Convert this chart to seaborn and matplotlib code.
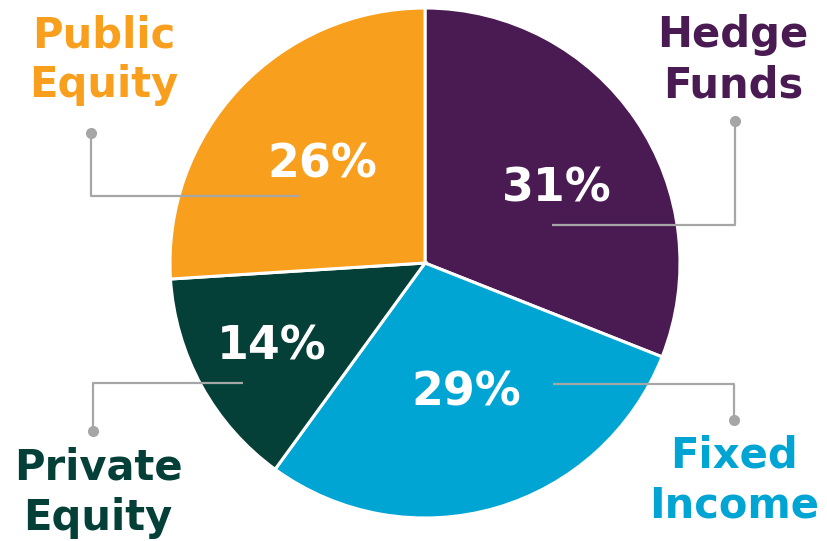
import matplotlib
matplotlib.use("Agg")
import matplotlib.pyplot as plt
import seaborn as sns

# chart data
categories = ["Hedge\nFunds", "Fixed\nIncome", "Private\nEquity", "Public\nEquity"]
shares = [31, 29, 14, 26]
colors = ["#4A1A52", "#00A5D4", "#043F38", "#F99F1E"]

# layout (pixel coords, y down)
center = (425, 263)
radius = 255
pct_pos = [(557, 201), (466, 405), (272, 360), (322, 177)]
name_pos = [(733, 47), (734, 468), (98, 480), (104, 47)]
leaders = [
    [(735, 121), (735, 225), (552, 225)],
    [(734, 420), (734, 384), (553, 384)],
    [(93, 431), (93, 383), (243, 383)],
    [(91, 133), (91, 196), (300, 196)],
]
line_gap = 50
gray = "#A6A6A6"

sns.set_theme(style="white")
plt.rcParams['font.family'] = ['DejaVu Sans']

fig = plt.figure(figsize=(8.27, 5.41), dpi=100)
ax = fig.add_axes([0, 0, 1, 1])

# y axis is inverted below, so counterclock in data = clockwise on screen
ax.pie(shares, colors=colors, center=center, radius=radius,
       startangle=-90, counterclock=True,
       wedgeprops=dict(edgecolor="white", linewidth=2.2))
ax.set_xlim(0, 827)
ax.set_ylim(541, 0)
ax.set_aspect("equal")
ax.axis("off")

for pts in leaders:
    xs = [p[0] for p in pts]
    ys = [p[1] for p in pts]
    ax.plot(xs, ys, color=gray, lw=1.6, zorder=3, solid_capstyle="butt")
    ax.plot(xs[0], ys[0], "o", color=gray, ms=7, zorder=4)

for val, (x, y) in zip(shares, pct_pos):
    ax.text(x, y, f"{val}%", color="white", fontsize=33, fontweight="bold",
            ha="center", va="baseline", zorder=5)

for name, col, (x, y) in zip(categories, colors, name_pos):
    for i, line in enumerate(name.split("\n")):
        ax.text(x, y + i * line_gap, line, color=col, fontsize=30,
                fontweight="bold", ha="center", va="baseline", zorder=5)

fig.savefig("out.png", dpi=100, facecolor="white")
